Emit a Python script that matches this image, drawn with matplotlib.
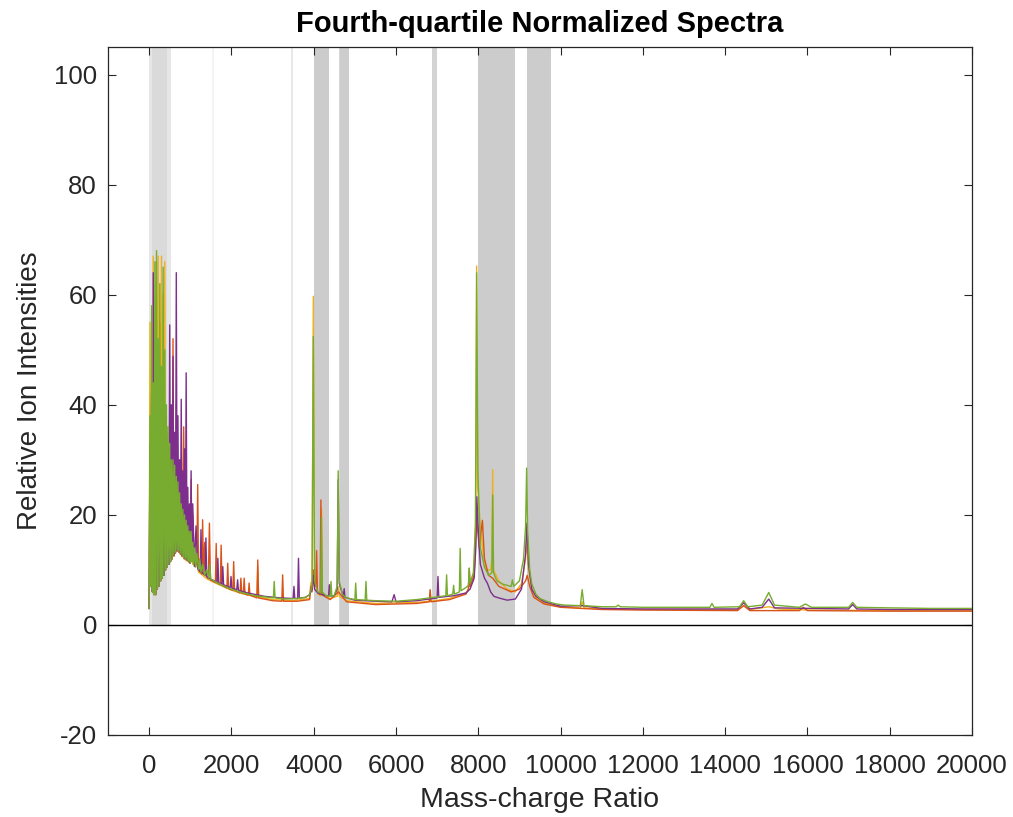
import matplotlib
matplotlib.use("Agg")
import matplotlib.pyplot as plt
import numpy as np

# ---------------- data ----------------
mz_low = [0, 20, 40, 60, 80, 100, 120, 140, 160, 180, 200, 220, 240, 260, 280,
          300, 320, 340, 360, 380, 400, 420, 440, 460, 480, 500, 520, 540, 560,
          580, 600, 620, 640, 660, 680, 700, 720, 740, 760, 780, 800, 820, 840,
          860, 880, 900, 920, 940, 960, 980, 1000]

green_low = [3, 38, 7, 58, 6, 44, 5.5, 66, 5.5, 68,
             6.5, 52, 7, 62, 8, 47, 8.5, 65, 9, 50,
             10, 40, 10.5, 36, 11, 33, 11.5, 30, 12, 30,
             12.7, 29, 13.2, 27, 13.6, 26, 13.4, 24, 13, 22,
             12.6, 21, 12.2, 20, 12, 19, 11.8, 18, 11.5, 17,
             11.3]
orange_low = [3, 55, 7, 40, 6, 67, 5.5, 50, 5.5, 66,
              6.5, 67, 7, 55, 8, 67, 8.5, 60, 9, 66,
              10, 35, 10.5, 30, 11, 30, 11.5, 28, 12, 26,
              12.5, 25, 13, 24, 13.4, 22, 13.2, 20, 12.8, 19,
              12.4, 18, 12, 17, 11.8, 16, 11.6, 15, 11.4, 14,
              11.2]
purple_low = [3, 33, 7, 42, 6, 64, 5.5, 40, 5.5, 45,
              6.5, 38, 7, 42, 8, 35, 8.5, 40, 9, 30,
              10, 35, 10.5, 30, 11, 54.5, 11.5, 40, 12, 48.8,
              12.7, 35, 13.2, 64, 13.6, 38, 13.4, 30, 13, 41,
              12.6, 28, 12.2, 32, 12, 45.8, 11.8, 25, 11.5, 22,
              11.3]
red_low = [3, 30, 7, 35, 6, 40, 5.5, 35, 5.5, 38,
           6.5, 30, 7, 32, 8, 28, 8.5, 30, 9, 28,
           10, 30, 10.5, 32, 11, 38, 11.5, 35, 12, 52,
           12.5, 32, 13, 40, 13.4, 28, 13.2, 30, 12.8, 26,
           12.4, 25, 36, 12, 22, 11.8, 24, 11.6, 20.7, 11.3,
           11.2]

green_mz_hi = [1020, 1040, 1060, 1080, 1100, 1130, 1160, 1200, 1230, 1260,
               1300, 1350, 1400, 1450, 1470, 1500, 1600, 1700, 1800, 1900,
               2000, 2200, 2400, 2600, 2800, 3000, 3020, 3040, 3060, 3300,
               3600, 3800, 3900, 3960, 3990, 4020, 4100, 4170, 4190, 4210,
               4300, 4400, 4420, 4440, 4500, 4570, 4595, 4620, 4700, 4800,
               5000, 5020, 5040, 5250, 5270, 5290, 5500, 6000, 6500, 6800,
               7000, 7210, 7230, 7250, 7380, 7400, 7420, 7540, 7560, 7580,
               7700, 7760, 7780, 7800, 7880, 7930, 7960, 7990, 8050, 8150,
               8250, 8330, 8350, 8370, 8450, 8600, 8800, 8830, 8860, 9000,
               9100, 9150, 9175, 9200, 9250, 9300, 9400, 9500, 9700, 9900,
               10100, 10480, 10525, 10570, 11000, 11350, 11400, 11450, 12000, 13000,
               13630, 13680, 13730, 14350, 14450, 14550, 14900, 15060, 15200, 15800,
               15950, 16100, 17000, 17100, 17200, 18000, 19000, 20000]
green_hi = [17, 11.5, 15, 11, 14, 10.5, 13, 10, 12, 9.6,
            11, 9, 10, 8.5, 11, 8.3, 7.9, 7.5, 7.1, 6.8,
            6.5, 6.0, 5.6, 5.3, 5.1, 4.9, 4.9, 7.9, 4.9, 4.7,
            4.8, 5.0, 5.5, 7, 52.4, 8, 6, 5.8, 19.5, 6,
            5.3, 5.2, 7.9, 5.2, 5.4, 7, 28, 8, 5.5, 4.9,
            4.6, 7.6, 4.6, 4.5, 7.9, 4.5, 4.4, 4.3, 4.6, 4.9,
            5.1, 5.3, 9.1, 5.3, 5.6, 7.2, 5.6, 6, 13.9, 6.2,
            6.8, 7.2, 10.3, 7.6, 9.5, 18, 64, 28, 14, 10.5,
            9, 9.5, 23.6, 9.5, 8, 7.4, 7, 8.2, 7, 8,
            12, 18, 28.5, 17, 10, 7.5, 5.6, 4.8, 4.2, 3.8,
            3.6, 3.5, 6.4, 3.5, 3.3, 3.3, 3.6, 3.3, 3.2, 3.2,
            3.2, 3.9, 3.2, 3.3, 4.4, 3.3, 3.6, 5.9, 3.6, 3.2,
            3.8, 3.2, 3.2, 4.1, 3.2, 3.1, 3.0, 3.0]

purple_mz_hi = [1020, 1040, 1060, 1100, 1140, 1180, 1240, 1260, 1280, 1360,
                1380, 1400, 1500, 1650, 1670, 1690, 1770, 1790, 1810, 1970,
                1990, 2010, 2130, 2150, 2170, 2400, 2800, 3200, 3500, 3520,
                3540, 3610, 3630, 3650, 3800, 3900, 3960, 3990, 4020, 4100,
                4300, 4360, 4380, 4400, 4500, 4570, 4595, 4620, 4720, 4740,
                4760, 5000, 5500, 5900, 5955, 6000, 6500, 7000, 7020, 7040,
                7400, 7700, 7800, 7900, 7940, 7965, 8000, 8050, 8150, 8220,
                8300, 8380, 8500, 8700, 8900, 9050, 9150, 9180, 9220, 9300,
                9400, 9600, 10000, 10525, 11000, 12000, 14300, 14450, 14600, 14900,
                15060, 15200, 17000, 17100, 17200, 18000, 20000]
purple_hi = [28, 11.5, 22, 10.6, 18, 10.2, 9.7, 17.3, 9.5, 9,
             15.8, 8.8, 8.3, 7.8, 12.1, 7.7, 7.4, 10.6, 7.3, 6.8,
             8.8, 6.7, 6.4, 8.2, 6.3, 5.8, 5.2, 4.9, 4.8, 7,
             4.8, 4.8, 12.1, 4.9, 5.0, 5.5, 6.5, 9, 6.5, 5.8,
             5.3, 5.3, 7.3, 5.3, 5.3, 6.5, 26.4, 7.5, 5.2, 6.6,
             5.0, 4.5, 4.3, 4.2, 5.5, 4.2, 4.4, 4.9, 8.8, 5.0,
             5.3, 5.8, 6.5, 8.5, 14, 23.3, 17, 11, 8.5, 7.6,
             6, 5.2, 4.9, 4.5, 4.7, 6.5, 13, 18.5, 11, 6.5,
             5.2, 4.2, 3.4, 3.5, 3.0, 2.9, 2.9, 4.0, 2.9, 3.2,
             4.7, 3.1, 2.9, 3.7, 2.9, 2.8, 2.8]

orange_mz_hi = [1020, 1060, 1100, 1200, 1300, 1400, 1500, 1700, 2000, 2300,
                2620, 2640, 2660, 3000, 3500, 3900, 3930, 3960, 3990, 4020,
                4100, 4170, 4190, 4210, 4400, 4570, 4595, 4620, 4800, 5500,
                6500, 6810, 6830, 6850, 7300, 7700, 7760, 7780, 7800, 7900,
                7940, 7960, 7985, 8060, 8120, 8200, 8300, 8330, 8350, 8370,
                8500, 8700, 8900, 9050, 9150, 9180, 9220, 9300, 9400, 9600,
                10000, 10480, 10525, 10570, 11000, 12000, 14300, 14450, 14600, 14800,
                15060, 15300, 16000, 18000, 20000]
orange_hi = [14, 11, 13, 9.6, 9, 8.4, 8, 7.3, 6.3, 5.6,
             5.1, 10.6, 5.1, 4.6, 4.4, 4.8, 7.6, 8, 59.7, 9,
             5.6, 5.3, 21, 5.5, 4.8, 5.2, 7, 5.2, 4.4, 3.9,
             4.1, 4.3, 6.2, 4.3, 4.8, 5.8, 6.5, 9, 7, 9.5,
             20, 65.2, 25, 17, 13, 10, 10, 12, 28.2, 10,
             8, 6.5, 6, 7.5, 12, 15.5, 10, 6.5, 5, 4,
             3.3, 3.1, 4.2, 3.1, 2.9, 2.8, 2.8, 3.5, 2.8, 3.0,
             3.3, 2.9, 2.7, 2.6, 2.6]

red_mz_hi = [1020, 1040, 1060, 1100, 1160, 1180, 1200, 1280, 1300, 1320,
             1350, 1370, 1440, 1465, 1490, 1610, 1630, 1650, 1730, 1750,
             1770, 1890, 1910, 1930, 2035, 2055, 2075, 2210, 2230, 2250,
             2290, 2310, 2330, 2410, 2430, 2450, 2620, 2640, 2660, 3000,
             3225, 3245, 3265, 3600, 3900, 3930, 3960, 3990, 4020, 4050,
             4070, 4090, 4155, 4175, 4195, 4400, 4600, 4800, 5500, 6500,
             6810, 6830, 6850, 7300, 7700, 7760, 7780, 7800, 7900, 7960,
             8020, 8100, 8150, 8250, 8350, 8500, 8800, 9000, 9150, 9190,
             9250, 9350, 9600, 10000, 10525, 11000, 12000, 14300, 14450, 14600,
             15800, 15900, 16000, 18000, 20000]
red_hi = [26.4, 11.5, 20, 10.8, 11, 25.5, 10, 9.3, 19.1, 9.2,
          15, 9, 8.4, 18.5, 8.2, 7.7, 14.8, 7.6, 7.3, 14.5,
          7.2, 6.7, 11.2, 6.6, 6.3, 11.5, 6.3, 5.8, 8.5, 5.8,
          5.7, 8.5, 5.6, 5.4, 7.6, 5.4, 4.9, 11.8, 4.9, 4.4,
          4.3, 9.1, 4.3, 4.3, 4.6, 7, 6, 10, 7, 7,
          13.5, 6, 5.5, 22.7, 5.5, 4.6, 6, 4.2, 3.7, 3.9,
          4.2, 6.4, 4.2, 4.6, 5.6, 6.5, 10.3, 7, 9, 20,
          14, 19, 12, 9, 8.5, 7, 6, 6.5, 8, 9,
          7, 5, 3.8, 3.2, 3.0, 2.8, 2.7, 2.6, 3.5, 2.6,
          2.6, 3.2, 2.6, 2.5, 2.5]

# selected m/z regions (shaded)
band_start = [-10, 70, 1530, 3445, 4015, 4605, 4640, 6885, 8000, 9190]
band_end = [530, 440, 1580, 3495, 4380, 4860, 4850, 6990, 8885, 9760]
band_gray = ['#e6e6e6', '#dadada', '#f3f3f3', '#e8e8e8', '#cccccc',
             '#d6d6d6', '#cdcdcd', '#d3d3d3', '#cccccc', '#cccccc']

x_ticks = [0, 2000, 4000, 6000, 8000, 10000, 12000, 14000, 16000, 18000, 20000]
y_ticks = [-20, 0, 20, 40, 60, 80, 100]

# ---------------- plot ----------------
plt.rcParams['font.family'] = ['Liberation Sans', 'DejaVu Sans']
plt.rcParams['axes.unicode_minus'] = False
txt = '#262626'

fig = plt.figure(figsize=(10.13, 8.17), dpi=100)
ax = fig.add_axes([108 / 1013, 82 / 817, 864 / 1013, 688 / 817])
ax.set_xlim(-1000, 20000)
ax.set_ylim(-20, 105)

for s, e, c in zip(band_start, band_end, band_gray):
    ax.fill_between([s, e], 0, 105, color=c, lw=0, zorder=1)

series = [
    (orange_low + orange_hi, mz_low + orange_mz_hi, '#EDB120'),
    (red_low + red_hi, mz_low + red_mz_hi, '#D95319'),
    (purple_low + purple_hi, mz_low + purple_mz_hi, '#7E2F8E'),
    (green_low + green_hi, mz_low + green_mz_hi, '#77AC30'),
]
for y, x, c in series:
    ax.plot(x, y, color=c, lw=1.0, zorder=3)

ax.axhline(0, color='black', lw=1.0, zorder=4)

ax.set_xticks(x_ticks)
ax.set_yticks(y_ticks)
ax.tick_params(direction='in', length=6, width=0.8, colors=txt,
               labelsize=18.5, top=True, right=True)
ax.tick_params(axis='x', pad=14)
ax.tick_params(axis='y', pad=8)
for sp in ax.spines.values():
    sp.set_color(txt)
    sp.set_linewidth(0.9)

ax.set_xlabel('Mass-charge Ratio', fontsize=20.5, color=txt, labelpad=6)
ax.set_ylabel('Relative Ion Intensities', fontsize=20, color=txt, labelpad=8)
ax.set_title('Fourth-quartile Normalized Spectra', fontsize=21, fontweight='bold',
             color='black', pad=11)

fig.savefig('out.png', dpi=100)
